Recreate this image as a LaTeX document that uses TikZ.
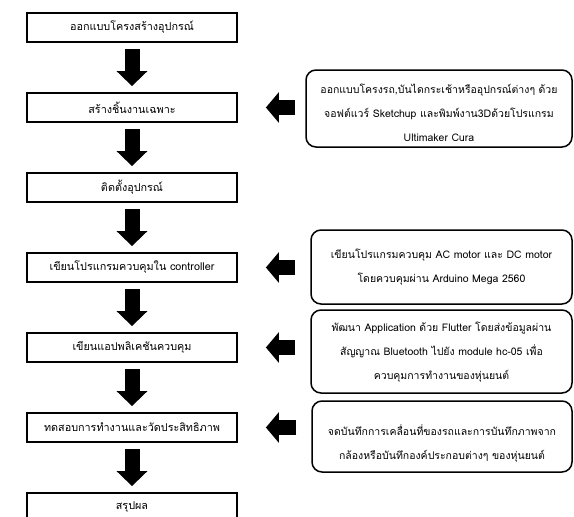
\documentclass[tikz,border=0pt]{standalone}
\usepackage{fontspec}
\setmainfont[Script=Thai]{Loma}
\usetikzlibrary{arrows.meta}
\begin{document}
\begin{tikzpicture}[x=1pt,y=-1pt,
  stepbox/.style={draw,line width=1.8pt,minimum width=210pt,minimum height=29pt,inner sep=0pt,font=\fontsize{10.8}{12}\selectfont},
  notebox/.style={draw,line width=1.5pt,rounded corners=10pt,inner sep=0pt},
  notetext/.style={align=center,inner sep=0pt,font=\fontsize{10.5}{24}\selectfont},
  downarrow/.style={line width=15pt,-{Triangle[length=15pt,width=30pt]},shorten <=6pt,shorten >=6pt},
  leftarrow/.style={line width=15pt,-{Triangle[length=13pt,width=30pt]},shorten <=10pt,shorten >=28pt}]
\useasboundingbox (0,0) rectangle (574,517);
\fill[white] (0,0) rectangle (574,517);
% main steps
\node[stepbox] (b1) at (132,27.5) {ออกแบบโครงสร้างอุปกรณ์};
\node[stepbox] (b2) at (132,107.5) {สร้างชิ้นงานเฉพาะ};
\node[stepbox] (b3) at (132,187.5) {ติดตั้งอุปกรณ์};
\node[stepbox] (b4) at (132,267.5) {เขียนโปรแกรมควบคุมใน controller};
\node[stepbox] (b5) at (132,347.5) {เขียนแอปพลิเคชันควบคุม};
\node[stepbox] (b6) at (132,427.5) {ทดสอบการทำงานและวัดประสิทธิภาพ};
\node[stepbox] (b7) at (132,507.5) {สรุปผล};
% notes
\node[notebox,minimum width=266pt,minimum height=77pt] (r1) at (439,108.5) {};
\node[notetext] (r1t) at (439,113) {ออกแบบโครงรถ,บันไดกระเช้าหรืออุปกรณ์ต่างๆ ด้วย\\จอฟต์แวร์ Sketchup และพิมพ์งาน3Dด้วยโปรแกรม\\Ultimaker Cura};
\node[notebox,minimum width=261pt,minimum height=74pt] (r2) at (441.5,267) {};
\node[notetext] (r2t) at (441.5,267.5) {เขียนโปรแกรมควบคุม AC motor และ DC motor\\โดยควบคุมผ่าน Arduino Mega 2560};
\node[notebox,minimum width=261pt,minimum height=83pt] (r3) at (441.5,351.5) {};
\node[notetext] (r3t) at (441.5,352.5) {พัฒนา Application ด้วย Flutter โดยส่งข้อมูลผ่าน\\สัญญาณ Bluetooth ไปยัง module hc-05 เพื่อ\\ควบคุมการทำงานของหุ่นยนต์};
\node[notebox,minimum width=260pt,minimum height=71pt] (r4) at (442,436.5) {};
\node[notetext] (r4t) at (442,443) {จดบันทึกการเคลื่อนที่ของรถและการบันทึกภาพจาก\\กล้องหรือบันทึกองค์ประกอบต่างๆ ของหุ่นยนต์};
% down arrows
\foreach \a/\b in {b1/b2,b2/b3,b3/b4,b4/b5,b5/b6,b6/b7}
  \draw[downarrow] (\a.south) -- (\b.north);
% left arrows
\draw[leftarrow] (b2.east -| r1.west) -- (b2.east);
\draw[leftarrow,shorten <=15pt] (b4.east -| r2.west) -- (b4.east);
\draw[leftarrow,shorten <=15pt] (b5.east -| r3.west) -- (b5.east);
\draw[leftarrow,shorten <=15pt] (b6.east -| r4.west) -- (b6.east);
\end{tikzpicture}
\end{document}
